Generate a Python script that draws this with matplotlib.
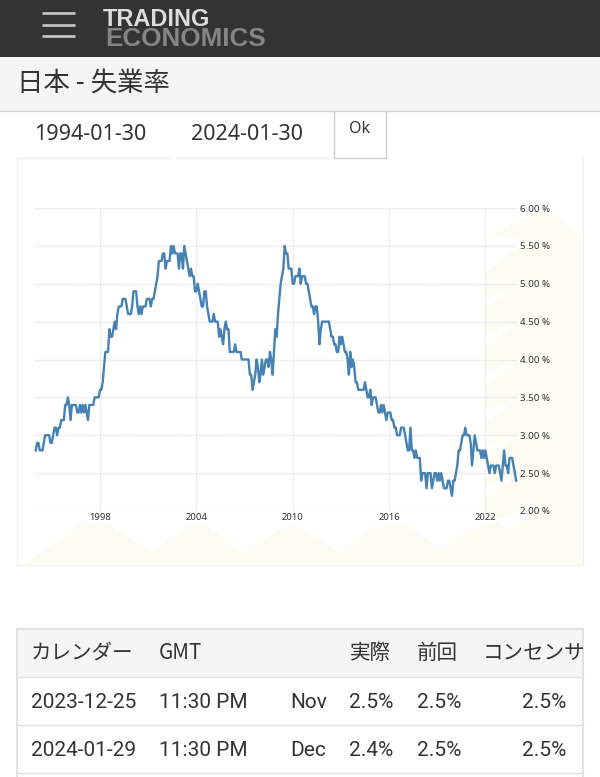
import numpy as np
import matplotlib
matplotlib.use("Agg")
import matplotlib.pyplot as plt
from matplotlib.patches import Rectangle, Polygon

CJK = ["Noto Sans CJK JP", "Roboto", "DejaVu Sans"]

# monthly unemployment rate, one row per year from 1994
rate_1994_1999 = [
    2.8, 2.9, 2.9, 2.8, 2.8, 2.8, 2.9, 3.0, 3.0, 3.0, 3.0, 2.9,
    2.9, 3.0, 3.1, 3.1, 3.0, 3.1, 3.1, 3.2, 3.2, 3.2, 3.4, 3.4,
    3.5, 3.4, 3.2, 3.4, 3.4, 3.4, 3.4, 3.3, 3.3, 3.4, 3.3, 3.4,
    3.3, 3.4, 3.3, 3.2, 3.4, 3.4, 3.4, 3.4, 3.5, 3.5, 3.5, 3.5,
    3.6, 3.6, 3.7, 3.9, 4.1, 4.1, 4.1, 4.4, 4.3, 4.3, 4.4, 4.5,
    4.4, 4.6, 4.7, 4.7, 4.7, 4.8, 4.8, 4.8, 4.7, 4.6, 4.6, 4.6,
]
rate_2000_2005 = [
    4.7, 4.9, 4.9, 4.9, 4.7, 4.6, 4.7, 4.6, 4.7, 4.7, 4.7, 4.8,
    4.8, 4.8, 4.7, 4.8, 4.8, 4.9, 5.0, 5.1, 5.3, 5.3, 5.3, 5.4,
    5.4, 5.2, 5.3, 5.3, 5.3, 5.5, 5.4, 5.5, 5.4, 5.4, 5.4, 5.2,
    5.4, 5.4, 5.2, 5.5, 5.4, 5.3, 5.2, 5.1, 5.2, 5.1, 5.1, 4.9,
    4.9, 5.0, 4.9, 4.8, 4.7, 4.7, 4.9, 4.9, 4.7, 4.6, 4.5, 4.5,
    4.5, 4.6, 4.5, 4.5, 4.5, 4.3, 4.4, 4.3, 4.2, 4.4, 4.5, 4.4,
]
rate_2006_2011 = [
    4.4, 4.1, 4.1, 4.1, 4.1, 4.2, 4.1, 4.1, 4.1, 4.1, 4.0, 4.0,
    4.0, 4.0, 4.0, 4.0, 3.8, 3.8, 3.6, 3.7, 3.8, 4.0, 3.9, 3.7,
    3.8, 4.0, 3.8, 3.9, 4.0, 4.0, 3.9, 4.1, 4.0, 3.8, 4.1, 4.4,
    4.3, 4.6, 4.8, 5.0, 5.1, 5.2, 5.5, 5.4, 5.4, 5.2, 5.2, 5.2,
    5.0, 5.0, 5.1, 5.1, 5.1, 5.2, 5.0, 5.1, 5.1, 5.1, 5.0, 5.0,
    4.9, 4.8, 4.7, 4.7, 4.6, 4.7, 4.7, 4.5, 4.2, 4.4, 4.5, 4.5,
]
rate_2012_2017 = [
    4.5, 4.5, 4.5, 4.5, 4.4, 4.3, 4.3, 4.2, 4.2, 4.1, 4.1, 4.3,
    4.2, 4.3, 4.2, 4.1, 4.1, 4.0, 3.8, 4.1, 3.9, 4.0, 3.9, 3.7,
    3.7, 3.6, 3.6, 3.6, 3.6, 3.6, 3.7, 3.6, 3.5, 3.5, 3.6, 3.4,
    3.5, 3.5, 3.5, 3.4, 3.3, 3.3, 3.4, 3.3, 3.4, 3.3, 3.2, 3.3,
    3.3, 3.3, 3.2, 3.2, 3.1, 3.1, 3.0, 3.0, 3.0, 3.1, 3.1, 3.1,
    3.0, 2.9, 2.8, 2.8, 3.1, 2.8, 2.8, 2.7, 2.8, 2.7, 2.7, 2.7,
]
rate_2018_2023 = [
    2.4, 2.5, 2.5, 2.5, 2.3, 2.5, 2.5, 2.5, 2.3, 2.4, 2.5, 2.5,
    2.4, 2.5, 2.4, 2.5, 2.4, 2.3, 2.3, 2.3, 2.4, 2.4, 2.3, 2.2,
    2.4, 2.4, 2.5, 2.6, 2.8, 2.8, 2.9, 3.0, 3.0, 3.1, 3.0, 3.0,
    3.0, 2.9, 2.6, 2.8, 3.0, 2.9, 2.8, 2.8, 2.8, 2.7, 2.8, 2.7,
    2.8, 2.7, 2.6, 2.5, 2.6, 2.6, 2.6, 2.5, 2.6, 2.6, 2.6, 2.5,
    2.4, 2.6, 2.8, 2.6, 2.6, 2.5, 2.7, 2.7, 2.7, 2.6, 2.5, 2.4,
]
start_year = 1994

x_ticks = [1998, 2004, 2010, 2016, 2022]
y_ticks = [2, 2.5, 3, 3.5, 4, 4.5, 5, 5.5, 6]

table_header = ["カレンダー", "GMT", "", "実際", "前回", "コンセンサス"]
table_dates = ["2023-12-25", "2024-01-29"]
table_times = ["11:30 PM", "11:30 PM"]
table_months = ["Nov", "Dec"]
table_actual = ["2.5%", "2.4%"]
table_previous = ["2.5%", "2.5%"]
table_consensus = ["2.5%", "2.5%"]


def draw_page(ax):
    # top bar and logo
    ax.add_patch(Rectangle((0, 0), 600, 57, color="#333333", lw=0))
    for y in [13, 25, 36]:
        ax.plot([42, 75], [y, y], color="#c8c8c8", lw=1.9, solid_capstyle="butt")
    ax.text(102.5, 25.5, "TRADING", family="Liberation Sans", weight="bold",
            size=16.9, color="#dddddd", va="baseline")
    ax.text(105.5, 46, "ECONOMICS", family="Liberation Sans", weight="bold",
            size=18.7, color="#858585", va="baseline")

    # title band
    ax.add_patch(Rectangle((0, 57), 600, 54, color="#f5f5f5", lw=0))
    ax.plot([0, 600], [111, 111], color="#d4d4d4", lw=1)
    ax.text(17, 84, "日本 - 失業率", family=CJK, size=19, color="#333333", va="center")

    # date inputs
    ax.text(34, 134.5, "1994-01-30", family="Noto Sans", size=15.5, color="#333333", va="center")
    ax.text(191.5, 134.5, "2024-01-30", family="Noto Sans", size=15.5, color="#333333", va="center")
    ax.plot([17, 170], [158, 158], color="#eeeeee", lw=1)
    ax.plot([176, 328], [158, 158], color="#eeeeee", lw=1)
    ax.plot([334, 334, 386, 386], [111, 158, 158, 111], color="#cccccc", lw=1)
    ax.text(360, 129, "Ok", family="Noto Sans", size=11.5, color="#333333", ha="center", va="center")

    # chart frame
    ax.plot([17, 17, 583, 583], [158, 565, 565, 158], color="#f0f0f0", lw=0.8)

    # pale watermark behind the chart
    wash = "#fcfcf3"
    ax.add_patch(Polygon([(23, 565), (87, 520), (110, 525), (150, 553), (190, 526),
                          (207, 526), (242, 552), (287, 526), (303, 528), (338, 553),
                          (380, 525), (407, 525), (440, 549), (477, 525), (497, 522),
                          (510, 530), (547, 500), (583, 500), (583, 565)], color=wash, lw=0))
    ax.add_patch(Polygon([(487, 235), (547, 208), (583, 240), (583, 505), (525, 505), (525, 240)],
                         color=wash, lw=0))
    for low in [272, 307, 345, 383, 421, 459, 497]:
        ax.add_patch(Polygon([(487, low), (526, low - 30), (526, low + 12), (487, low + 26)],
                             color=wash, lw=0))

    # table
    ax.add_patch(Rectangle((17, 629), 566, 48, color="#f5f5f5", lw=0))
    ax.plot([17, 17], [777, 629], color="#dddddd", lw=1.2)
    ax.plot([17, 583], [629, 629], color="#dddddd", lw=1.2)
    ax.plot([583, 583], [629, 777], color="#dddddd", lw=1.2)
    for y in [677, 725, 773]:
        ax.plot([17, 583], [y, y], color="#e2e2e2", lw=1)

    header_x = [31, 159, 291, 350, 417, 483]
    for x, label in zip(header_x, table_header):
        t = ax.text(x, 653, label, family=CJK, size=14.8, color="#333333", va="center", clip_on=True)
        t.set_clip_path(Rectangle((17, 629), 566, 48, transform=ax.transData))

    for i, y in enumerate([702, 750]):
        for x, val in [(31, table_dates[i]), (159, table_times[i]), (290.5, table_months[i]),
                       (349.5, table_actual[i]), (416.5, table_previous[i])]:
            ax.text(x, y, val, family="Roboto", size=15, color="#333333", va="center")
        ax.text(566, y, table_consensus[i], family="Roboto", size=15, color="#333333",
                va="center", ha="right")


def draw_chart(ax):
    rate = rate_1994_1999 + rate_2000_2005 + rate_2006_2011 + rate_2012_2017 + rate_2018_2023
    years = start_year + np.arange(len(rate)) / 12

    ax.plot(years, rate, color="#4682b4", lw=1.7, solid_joinstyle="round", zorder=3)
    ax.set_xlim(1993.89, 2024.03)
    ax.set_ylim(2, 6)
    ax.set_xticks(x_ticks)
    ax.set_xticklabels([str(y) for y in x_ticks], family="Noto Sans", size=6.8, color="#333333")
    ax.set_yticks(y_ticks)
    ax.set_yticklabels(["%.2f %%" % y for y in y_ticks], family="Noto Sans", size=7, color="#333333")
    ax.yaxis.tick_right()
    ax.tick_params(length=0, pad=1.5)
    ax.grid(True, color="#e8e8e8", lw=1, ls=(0, (1, 0.5)))
    ax.set_axisbelow(True)
    ax.patch.set_alpha(0)
    for s in ax.spines.values():
        s.set_visible(False)


def main():
    fig = plt.figure(figsize=(6, 7.77), dpi=100, facecolor="white")
    page = fig.add_axes([0, 0, 1, 1])
    page.set_xlim(0, 600)
    page.set_ylim(777, 0)
    page.axis("off")
    draw_page(page)

    left, right, top, bottom = 34, 518, 208, 511
    chart = fig.add_axes([left / 600, 1 - bottom / 777, (right - left) / 600, (bottom - top) / 777])
    draw_chart(chart)

    fig.savefig("out.png", dpi=100)


if __name__ == "__main__":
    main()
